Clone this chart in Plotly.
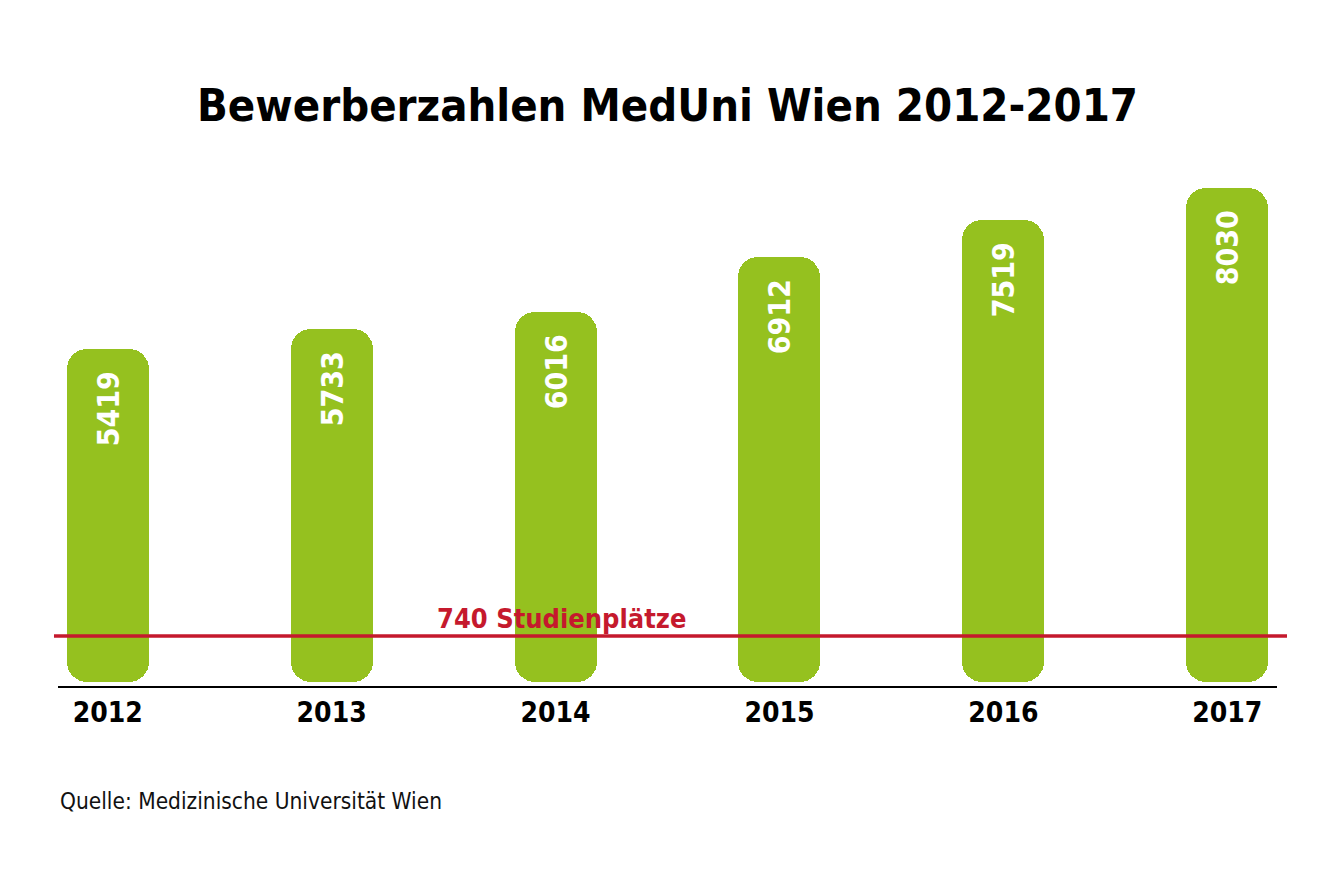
import plotly.graph_objects as go

# ---- data ----
years = ["2012", "2013", "2014", "2015", "2016", "2017"]
applicants = [5419, 5733, 6016, 6912, 7519, 8030]
study_places = 740
place_label = "740 Studienplätze"
title_text = "Bewerberzahlen MedUni Wien 2012-2017"
source_text = "Quelle: Medizinische Universität Wien"

# ---- style ----
GREEN = "#95c11f"
RED = "#c5192d"
FONT = "Liberation Sans Narrow, DejaVu Sans Condensed, Roboto Condensed, Arial Narrow, sans-serif"

idx = list(range(len(years)))
bar_w = 0.366
radius = 20
label_pad = "\u00a0\u00a0"  # keeps the value label a little below the bar top

fig = go.Figure()
# bar drawn downward from its top, so the bottom corners are rounded
fig.add_trace(go.Bar(
    x=idx, y=[-v for v in applicants], base=applicants, width=bar_w,
    marker=dict(color=GREEN, cornerradius=radius, line=dict(width=0)),
    hoverinfo="skip", showlegend=False,
))
# same bar drawn upward: rounded top, value labels
fig.add_trace(go.Bar(
    x=idx, y=applicants, base=[0] * len(applicants), width=bar_w,
    marker=dict(color=GREEN, cornerradius=radius, line=dict(width=0)),
    text=[f"{v}{label_pad}" for v in applicants], textposition="inside",
    insidetextanchor="end", textangle=-90,
    textfont=dict(family=FONT, size=30, color="white", weight="bold"),
    hoverinfo="skip", showlegend=False,
))

fig.add_shape(type="line", xref="paper", yref="y",
              x0=-0.0033, x1=1.0082, y0=study_places, y1=study_places,
              line=dict(color=RED, width=3.5), layer="above")

fig.add_annotation(text=place_label, xref="x", yref="y", x=2, y=study_places,
                   xanchor="center", yanchor="bottom", xshift=6, yshift=0,
                   showarrow=False,
                   font=dict(family=FONT, size=27, color=RED, weight="bold"))

fig.add_annotation(text=source_text, xref="paper", yref="paper", x=0, y=-0.2146,
                   xanchor="left", yanchor="middle", showarrow=False,
                   font=dict(family=FONT, size=22.5, color="#111111"))

fig.update_layout(
    width=1339, height=889,
    paper_bgcolor="white", plot_bgcolor="white",
    margin=dict(l=58, r=62, t=150, b=203),
    barmode="overlay", bargap=0,
    title=dict(text=title_text, x=0.5, xref="paper", y=1 - 105 / 889,
               xanchor="center", yanchor="middle",
               font=dict(family=FONT, size=45, color="black", weight="bold")),
    xaxis=dict(range=[-0.222, 5.222], tickvals=idx, ticktext=years,
               showgrid=False, zeroline=False, showline=True,
               linecolor="black", linewidth=2, ticks="",
               tickfont=dict(family=FONT, size=28, color="black", weight="bold")),
    yaxis=dict(range=[-73, 8656], visible=False, showgrid=False, zeroline=False),
)

fig.write_html("out.html", config={"displayModeBar": False},
               post_script="document.body.style.margin='0px';")
